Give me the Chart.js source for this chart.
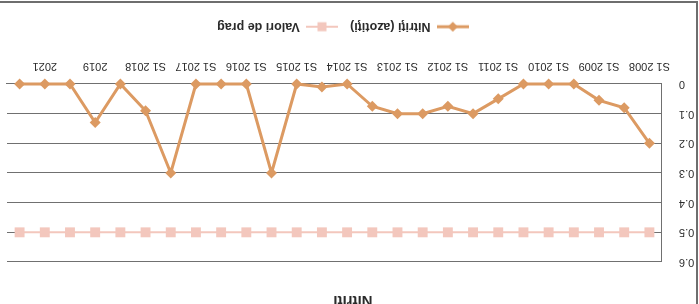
<!DOCTYPE html>
<html>
<head>
<meta charset="utf-8">
<script src="https://cdn.jsdelivr.net/npm/chart.js@4.4.1/dist/chart.umd.min.js"></script>
<style>
  html, body { margin: 0; padding: 0; background: #fff; overflow: hidden; }
  /* la imagen original está escaneada al revés: se gira el gráfico entero */
  #marco { position: absolute; left: 0; top: 0; width: 699px; height: 304px; transform: rotate(180deg); }
</style>
</head>
<body>
<div id="marco"><canvas id="grafico-nitriti" width="699" height="304"></canvas></div>
<script>
'use strict';

// Datos
const categorias = [
  'S1 2008', 'S2 2008', 'S1 2009', 'S2 2009', 'S1 2010', 'S2 2010',
  'S1 2011', 'S2 2011', 'S1 2012', 'S2 2012', 'S1 2013', 'S2 2013',
  'S1 2014', 'S2 2014', 'S1 2015', 'S2 2015', 'S1 2016', 'S2 2016',
  'S1 2017', 'S2 2017', 'S1 2018', 'S2 2018', '2019', '2020', '2021', '2022'
];
const valoriNitriti = [
  0.2, 0.08, 0.055, 0, 0, 0, 0.05, 0.1, 0.075, 0.1, 0.1, 0.075, 0,
  0.01, 0, 0.3, 0, 0, 0, 0.3, 0.09, 0, 0.13, 0, 0, 0
];
const valoriPrag = [
  0.5, 0.5, 0.5, 0.5, 0.5, 0.5, 0.5, 0.5, 0.5, 0.5, 0.5, 0.5, 0.5,
  0.5, 0.5, 0.5, 0.5, 0.5, 0.5, 0.5, 0.5, 0.5, 0.5, 0.5, 0.5, 0.5
];
const etichetteY = ['0', '0.1', '0.2', '0.3', '0.4', '0.5', '0.6'];
const titlu = 'Nitriti';
const numeSerii = ['Nitriţi (azotiţi)', 'Valori de prag'];

const FUENTE = "'Liberation Sans', Arial, sans-serif";
const COLOR_NITRITI = '#dc9a62';
const COLOR_PRAG = '#f3c7bd';
const COLOR_GRILLA = '#707070';
const COLOR_TEXTO = '#2b2b2b';

Chart.defaults.font.family = FUENTE;

// Icono de leyenda: segmento de línea con el marcador en el centro
function crearIconoLeyenda(color, grosor, estilo, radio) {
  const c = document.createElement('canvas');
  c.width = 32;
  c.height = 14;
  const ctx = c.getContext('2d');
  ctx.strokeStyle = color;
  ctx.lineWidth = grosor;
  ctx.beginPath();
  ctx.moveTo(0, 7);
  ctx.lineTo(32, 7);
  ctx.stroke();
  ctx.fillStyle = color;
  ctx.beginPath();
  if (estilo === 'rombo') {
    ctx.moveTo(16, 7 - radio);
    ctx.lineTo(16 + radio, 7);
    ctx.lineTo(16, 7 + radio);
    ctx.lineTo(16 - radio, 7);
    ctx.closePath();
  } else {
    ctx.rect(16 - radio, 7 - radio, radio * 2, radio * 2);
  }
  ctx.fill();
  return c;
}

const iconos = [
  crearIconoLeyenda(COLOR_NITRITI, 3, 'rombo', 5),
  crearIconoLeyenda(COLOR_PRAG, 2, 'cuadro', 4.5)
];

// Marco del escaneo (bordes del recuadro exterior)
const pluginMarco = {
  id: 'marcoExterior',
  afterLayout: function (chart) {
    // la leyenda original queda algo desplazada respecto al centro
    if (chart.legend) chart.legend.left += 20;
  },
  afterDraw: function (chart) {
    const ctx = chart.ctx;
    ctx.save();
    ctx.strokeStyle = '#6e6e6e';
    ctx.lineWidth = 2;
    ctx.beginPath();
    ctx.moveTo(2, 0);
    ctx.lineTo(2, 302);
    ctx.lineTo(chart.width, 302);
    ctx.stroke();
    ctx.restore();
  }
};

new Chart(document.getElementById('grafico-nitriti').getContext('2d'), {
  type: 'line',
  data: {
    labels: categorias,
    datasets: [
      {
        label: numeSerii[0],
        data: valoriNitriti,
        borderColor: COLOR_NITRITI,
        backgroundColor: COLOR_NITRITI,
        borderWidth: 3,
        pointStyle: 'rectRot',
        pointRadius: 5.5,
        pointBorderWidth: 0,
        tension: 0,
        clip: false,
        order: 1
      },
      {
        label: numeSerii[1],
        data: valoriPrag,
        borderColor: COLOR_PRAG,
        backgroundColor: COLOR_PRAG,
        borderWidth: 2,
        pointStyle: 'rect',
        pointRadius: 7,
        pointBorderWidth: 0,
        tension: 0,
        clip: false,
        order: 2
      }
    ]
  },
  options: {
    responsive: false,
    animation: false,
    devicePixelRatio: 1,
    layout: { padding: { left: 0, right: 7, top: 0, bottom: 10.5 } },
    scales: {
      x: {
        offset: true,
        grid: { display: false },
        border: { display: true, color: COLOR_GRILLA, width: 1 },
        ticks: {
          autoSkip: false,
          maxRotation: 0,
          minRotation: 0,
          padding: 3,
          color: COLOR_TEXTO,
          font: { size: 11 },
          callback: function (valor, indice) {
            return indice % 2 === 0 ? categorias[indice] : '';
          }
        },
        afterFit: function (escala) { escala.height = 39; }
      },
      y: {
        min: 0,
        max: 0.6,
        grid: { color: COLOR_GRILLA, lineWidth: 1, drawTicks: false },
        border: { display: true, color: COLOR_GRILLA, width: 1 },
        ticks: {
          stepSize: 0.1,
          padding: 17,
          color: COLOR_TEXTO,
          font: { size: 11 },
          callback: function (valor, indice) { return etichetteY[indice]; }
        },
        afterFit: function (escala) { escala.width = 37; }
      }
    },
    plugins: {
      title: {
        display: true,
        text: titlu,
        color: COLOR_TEXTO,
        font: { size: 15, weight: 'bold' },
        padding: { top: -5, bottom: 29 }
      },
      legend: {
        position: 'bottom',
        labels: {
          usePointStyle: true,
          pointStyleWidth: 32,
          boxHeight: 12,
          padding: 12,
          color: COLOR_TEXTO,
          font: { size: 12.5, weight: 'bold' },
          generateLabels: function (chart) {
            return chart.data.datasets.map(function (ds, i) {
              return {
                text: ds.label,
                pointStyle: iconos[i],
                fillStyle: ds.borderColor,
                strokeStyle: ds.borderColor,
                lineWidth: 0,
                hidden: false,
                datasetIndex: i,
                fontColor: COLOR_TEXTO
              };
            });
          }
        }
      },
      tooltip: { enabled: false }
    }
  },
  plugins: [pluginMarco]
});
</script>
</body>
</html>
